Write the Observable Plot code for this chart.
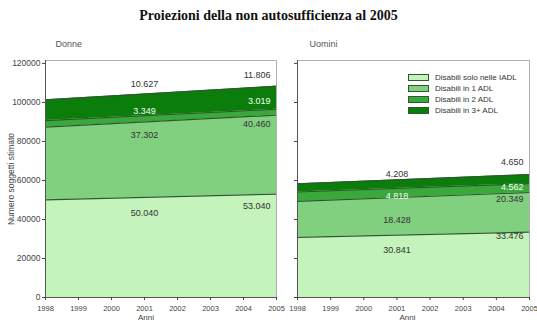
<!DOCTYPE html>
<html>
<head>
<meta charset="utf-8">
<script src="https://cdn.jsdelivr.net/npm/d3@7"></script>
<script src="https://cdn.jsdelivr.net/npm/@observablehq/plot@0.6"></script>
<style>
  html, body { margin: 0; padding: 0; background: #fff; }
  #chart { position: relative; width: 537px; height: 325px; overflow: hidden; font-family: "Liberation Sans", Arial, sans-serif; }
  #title { position: absolute; left: 0; top: 8px; width: 537px; text-align: center; font-family: "Liberation Serif", "Times New Roman", serif; font-weight: bold; font-size: 14px; color: #111; }
  .panel { position: absolute; top: 30px; }
  .panel svg { overflow: visible; }
  #legend { position: absolute; left: 408px; top: 72px; font-size: 8px; color: #333; line-height: 11px; }
  #legend .row { display: flex; align-items: center; height: 11px; }
  #legend .sw { width: 19px; height: 5px; border: 1px solid #2d5a2d; margin-right: 6px; }
</style>
</head>
<body>
<div id="chart">
  <div id="title">Proiezioni della non autosufficienza al 2005</div>
  <div id="left" class="panel" style="left:0px"></div>
  <div id="right" class="panel" style="left:280px"></div>
  <div id="legend"></div>
</div>
<script>
// Years covered by the projection and the x-axis ticks
const years = [1998, 2005];
const tickYears = [1998, 1999, 2000, 2001, 2002, 2003, 2004, 2005];
const yTicks = [0, 20000, 40000, 60000, 80000, 100000, 120000];

// Disability levels, bottom to top of the stack
const layers = ["Disabili solo nelle IADL", "Disabili in 1 ADL", "Disabili in 2 ADL", "Disabili in 3+ ADL"];
const colors = ["#c4f4bc", "#80d080", "#3aa83a", "#0b7d0b"];

// Women (Donne): estimated counts in 1998 and 2005
const donneIADL = [50040, 53040];
const donne1ADL = [37302, 40460];
const donne2ADL = [3349, 3019];
const donne3ADL = [10627, 11806];

// Men (Uomini): estimated counts in 1998 and 2005
const uominiIADL = [30841, 33476];
const uomini1ADL = [18428, 20349];
const uomini2ADL = [4818, 4562];
const uomini3ADL = [4208, 4650];

// Italian number formatting: 50.040
const it = d3.formatLocale({decimal: ",", thousands: ".", grouping: [3], currency: ["€", ""]});
const fmt = it.format(",");

function rowsFor(series) {
  const rows = [];
  series.forEach((vals, i) => years.forEach((yr, j) => rows.push({year: yr, layer: layers[i], value: vals[j]})));
  return rows;
}

// cumulative top of each layer at a given year index
function tops(series, j) {
  let acc = 0;
  return series.map(v => (acc += v[j]));
}

function panel({el, title, series, width, marginLeft, marginRight, showY, titleDx, anniDx, startDy, endDy, lightText}) {
  const rows = rowsFor(series);
  const top0 = tops(series, 0);
  const top1 = tops(series, 1);
  const labelMarks = [];
  series.forEach((vals, i) => {
    const fill = lightText.includes(i) ? "#f4fff0" : "#333";
    labelMarks.push(Plot.text([{x: 2001, y: top0[i], t: fmt(vals[0])}],
      {x: "x", y: "y", text: "t", dy: startDy[i], fill, fontSize: 9, textAnchor: "middle"}));
    labelMarks.push(Plot.text([{x: 2005, y: top1[i], t: fmt(vals[1])}],
      {x: "x", y: "y", text: "t", dy: endDy[i], dx: -6, fill, fontSize: 9, textAnchor: "end"}));
  });
  const chart = Plot.plot({
    width,
    height: 295,
    marginTop: 30,
    marginBottom: 28,
    marginLeft,
    marginRight,
    style: {fontFamily: "'Liberation Sans', Arial, sans-serif", fontSize: "9px", color: "#444", background: "transparent", overflow: "visible"},
    x: {domain: [1998, 2005]},
    y: {domain: [0, 121500]},
    color: {domain: layers, range: colors},
    marks: [
      Plot.areaY(rows, {x: "year", y: "value", fill: "layer", z: "layer", order: layers}),
      Plot.lineY(rows, Plot.stackY2({x: "year", y: "value", z: "layer", order: layers, stroke: "#2d5a2d", strokeWidth: 1.2})),
      Plot.frame({stroke: "#b0b0b0"}),
      Plot.ruleX([1998], {stroke: "#555"}),
      Plot.ruleY([0], {stroke: "#555"}),
      Plot.axisY({
        ticks: yTicks, tickSize: 3, tickPadding: 2, fontSize: 8.5,
        tickFormat: showY ? (d => String(d)) : () => "",
        label: showY ? "Numero soggetti stimato" : null,
        labelAnchor: "center", labelOffset: 38, labelArrow: "none"
      }),
      Plot.axisX({ticks: tickYears, tickSize: 3, tickPadding: 5, fontSize: 7.5, tickFormat: d => String(d), label: null}),
      Plot.text([title], {frameAnchor: "top-left", dx: titleDx, dy: -20, fontSize: 9, fill: "#555", textAnchor: "start"}),
      Plot.text(["Anni"], {frameAnchor: "bottom", dx: anniDx, dy: 22, fontSize: 8, fill: "#444"}),
      ...labelMarks
    ]
  });
  document.getElementById(el).appendChild(chart);
}

panel({
  el: "left", title: "Donne",
  series: [donneIADL, donne1ADL, donne2ADL, donne3ADL],
  width: 280, marginLeft: 45, marginRight: 4, showY: true,
  titleDx: 10, anniDx: -15,
  startDy: [13, 8, -9, -16],
  endDy: [12, 9, -8, -11],
  lightText: [2]
});

panel({
  el: "right", title: "Uomini",
  series: [uominiIADL, uomini1ADL, uomini2ADL, uomini3ADL],
  width: 257, marginLeft: 17, marginRight: 8, showY: false,
  titleDx: 12, anniDx: -6,
  startDy: [13, 19, 4, -10],
  endDy: [4, 7, 4, -12],
  lightText: [2]
});

// legend of the disability levels
const legend = document.getElementById("legend");
layers.forEach((name, i) => {
  const row = document.createElement("div");
  row.className = "row";
  const sw = document.createElement("div");
  sw.className = "sw";
  sw.style.background = colors[i];
  const label = document.createElement("span");
  label.textContent = name;
  row.appendChild(sw);
  row.appendChild(label);
  legend.appendChild(row);
});
</script>
</body>
</html>
